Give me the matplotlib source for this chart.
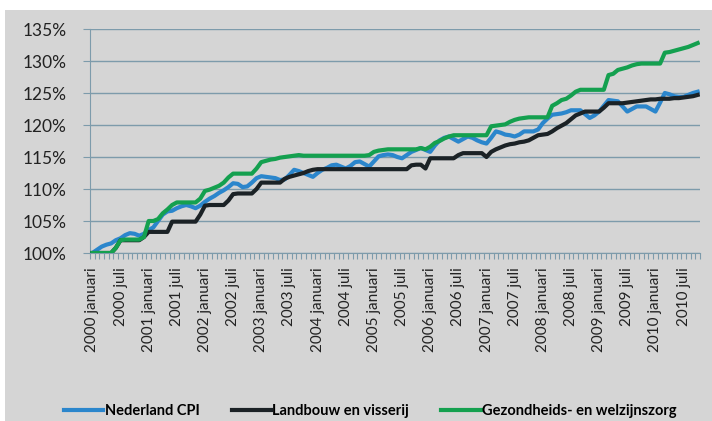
import matplotlib.pyplot as plt
from matplotlib.patches import Rectangle
from matplotlib.ticker import FixedLocator, FuncFormatter

# monthly index values (%), January 2000 - October 2010
cpi = [
    100.0, 100.5, 101.0, 101.3, 101.5, 102.0, 102.3, 102.8, 103.1, 103.0, 102.7, 103.0,  # 2000
    103.6, 104.0, 105.0, 106.0, 106.5, 106.6, 107.0, 107.3, 107.5, 107.3, 107.0, 107.4,  # 2001
    108.0, 108.5, 108.9, 109.4, 109.8, 110.3, 110.9, 110.8, 110.3, 110.4, 111.0, 111.7,  # 2002
    112.0, 111.9, 111.8, 111.7, 111.4, 111.5, 112.2, 113.0, 112.8, 112.5, 112.2, 111.9,  # 2003
    112.5, 113.0, 113.3, 113.7, 113.8, 113.5, 113.2, 113.6, 114.2, 114.3, 113.9, 113.5,  # 2004
    114.3, 115.1, 115.3, 115.4, 115.3, 115.0, 114.8, 115.3, 115.8, 116.1, 116.4, 116.1,  # 2005
    115.8, 116.8, 117.6, 118.0, 118.2, 117.8, 117.4, 117.8, 118.2, 118.0, 117.6, 117.3,  # 2006
    117.1, 118.0, 119.0, 118.8, 118.5, 118.4, 118.2, 118.5, 119.0, 119.0, 119.0, 119.3,  # 2007
    120.3, 121.0, 121.6, 121.7, 121.8, 122.0, 122.3, 122.3, 122.3, 121.7, 121.1, 121.5,  # 2008
    122.1, 123.0, 123.9, 123.8, 123.7, 122.9, 122.1, 122.5, 122.9, 122.9, 122.9, 122.5,  # 2009
    122.1, 123.5, 125.0, 124.8, 124.5, 124.4, 124.4, 124.7, 125.0, 125.2,                # 2010
]

landbouw = [
    100.0, 100.0, 100.0, 100.0, 100.0, 100.8, 102.0, 102.0, 102.0, 102.0, 102.0, 102.5,
    103.3, 103.3, 103.3, 103.3, 103.3, 104.9, 104.9, 104.9, 104.9, 104.9, 104.9, 106.0,
    107.4, 107.5, 107.5, 107.5, 107.5, 108.2, 109.2, 109.3, 109.3, 109.3, 109.3, 110.0,
    111.0, 111.0, 111.0, 111.0, 111.0, 111.6, 111.9, 112.1, 112.3, 112.5, 112.8, 113.0,
    113.1, 113.1, 113.1, 113.1, 113.1, 113.1, 113.1, 113.1, 113.1, 113.1, 113.1, 113.1,
    113.1, 113.1, 113.1, 113.1, 113.1, 113.1, 113.1, 113.1, 113.7, 113.8, 113.8, 113.2,
    114.8, 114.8, 114.8, 114.8, 114.8, 114.8, 115.3, 115.6, 115.6, 115.6, 115.6, 115.6,
    115.0, 115.8, 116.2, 116.5, 116.8, 117.0, 117.1, 117.3, 117.4, 117.6, 118.0, 118.4,
    118.5, 118.6, 119.0, 119.5, 119.9, 120.3, 120.9, 121.5, 121.8, 122.1, 122.1, 122.1,
    122.1, 122.7, 123.4, 123.4, 123.4, 123.4, 123.5, 123.6, 123.7, 123.8, 123.9, 124.0,
    124.0, 124.1, 124.1, 124.1, 124.2, 124.2, 124.3, 124.4, 124.5, 124.7,
]

zorg = [
    100.0, 100.0, 100.0, 100.0, 100.0, 100.8, 102.0, 102.1, 102.1, 102.1, 102.1, 102.5,
    105.0, 105.0, 105.3, 106.2, 106.8, 107.5, 107.9, 107.9, 107.9, 107.9, 107.9, 108.5,
    109.7, 109.9, 110.2, 110.5, 111.0, 111.8, 112.4, 112.4, 112.4, 112.4, 112.4, 113.2,
    114.2, 114.4, 114.6, 114.7, 114.9, 115.0, 115.1, 115.2, 115.3, 115.2, 115.2, 115.2,
    115.2, 115.2, 115.2, 115.2, 115.2, 115.2, 115.2, 115.2, 115.2, 115.2, 115.2, 115.3,
    115.8, 116.0, 116.1, 116.2, 116.2, 116.2, 116.2, 116.2, 116.2, 116.2, 116.4, 116.2,
    116.6, 117.2, 117.5, 117.9, 118.2, 118.4, 118.4, 118.4, 118.4, 118.4, 118.4, 118.4,
    118.4, 119.8, 119.9, 120.0, 120.1, 120.5, 120.8, 121.0, 121.1, 121.2, 121.2, 121.2,
    121.2, 121.2, 123.0, 123.4, 123.9, 124.1, 124.6, 125.2, 125.5, 125.5, 125.5, 125.5,
    125.5, 125.5, 127.8, 128.0, 128.6, 128.8, 129.0, 129.3, 129.5, 129.6, 129.6, 129.6,
    129.6, 129.6, 131.3, 131.4, 131.6, 131.8, 132.0, 132.2, 132.5, 132.8,
]

years = list(range(2000, 2011))
halves = ["januari", "juli"]
tick_labels = [f"{y} {h}" for y in years for h in halves]

series_names = ["Nederland CPI", "Landbouw en visserij", "Gezondheids- en welzijnszorg"]
series_colors = ["#2b86cc", "#1b2226", "#14a04f"]

bg = "#d5d5d5"
grid_col = "#7d9bab"

plt.rcParams["font.family"] = ["Lato", "DejaVu Sans"]

fig = plt.figure(figsize=(7.12, 4.21), dpi=100, facecolor="white")
# grey chart area with a thin white margin on top and left
fig.patches.append(Rectangle((5 / 712, 0), 1, 1 - 10 / 421, transform=fig.transFigure,
                             facecolor=bg, edgecolor="none", zorder=-10))

ax = fig.add_axes([90 / 712, 1 - 253 / 421, 610 / 712, 224 / 421])
ax.set_facecolor(bg)

x = list(range(len(cpi)))
for vals, name, col in zip([cpi, landbouw, zorg], series_names, series_colors):
    ax.plot(x, vals, color=col, lw=3.0, label=name, solid_joinstyle="round", zorder=3)

ax.set_xlim(-0.5, len(cpi) - 0.5)
ax.set_ylim(100, 135)
ax.set_yticks(range(100, 136, 5))
ax.yaxis.set_major_formatter(FuncFormatter(lambda v, p: f"{v:.0f}%"))
ax.grid(axis="y", color=grid_col, lw=1.0, zorder=1)

ax.set_xticks(range(0, len(tick_labels) * 6, 6))
ax.set_xticklabels(tick_labels, rotation=90, fontsize=11, color="#222222")
ax.xaxis.set_minor_locator(FixedLocator([i + 0.5 for i in range(-1, len(cpi))]))
ax.tick_params(axis="x", which="major", length=0, pad=10)
ax.tick_params(axis="x", which="minor", length=4, color=grid_col, width=0.8)
ax.tick_params(axis="y", length=5, color=grid_col, labelsize=12.5, labelcolor="#222222", pad=12)

for side in ["top", "right"]:
    ax.spines[side].set_visible(False)
ax.spines["left"].set_color(grid_col)
ax.spines["bottom"].set_color(grid_col)

fig.legend(loc="lower center", bbox_to_anchor=(0.52, -0.025), ncol=3, frameon=False,
           handlelength=2.7, handletextpad=0.1, columnspacing=2.2,
           prop={"size": 10.5, "weight": "bold"})

plt.savefig("out.png", dpi=100, facecolor="white")
plt.close()
